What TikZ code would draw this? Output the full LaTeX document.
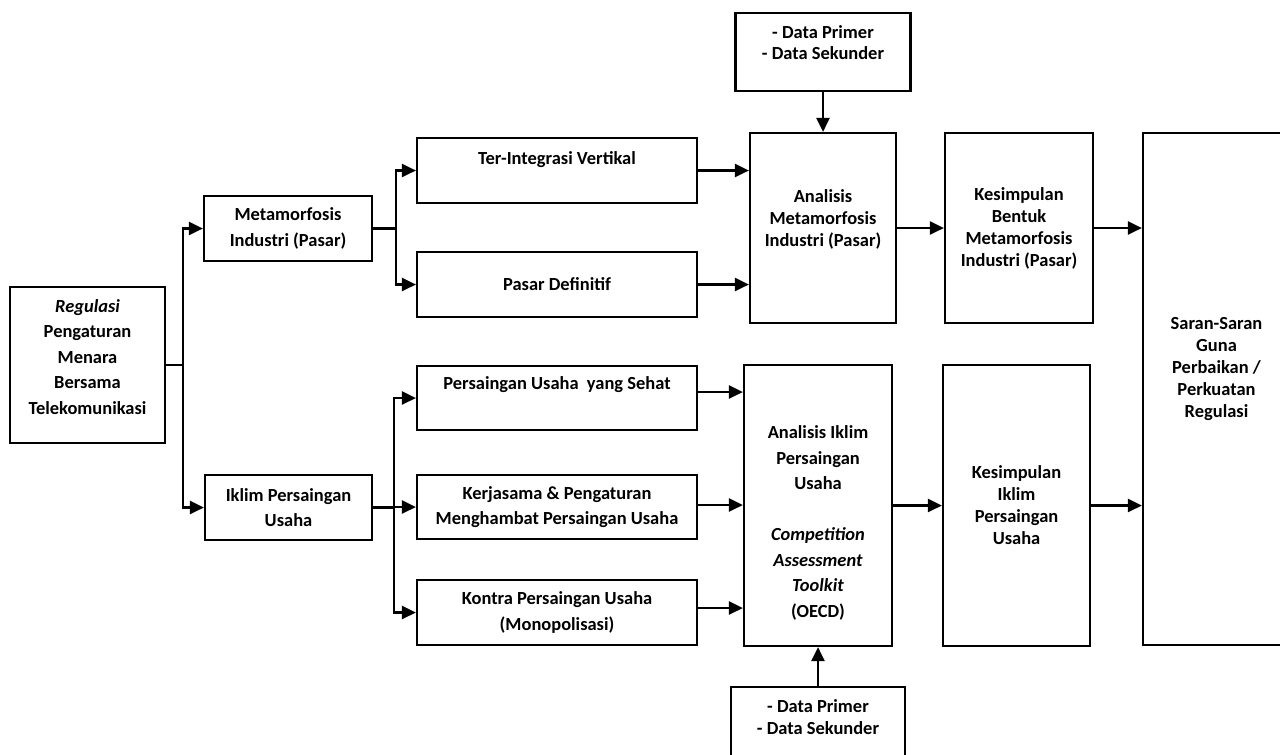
\documentclass[tikz,border=0pt]{standalone}
\usepackage{fontspec}
\setmainfont{Carlito}
\usetikzlibrary{arrows.meta, positioning}

\begin{document}
\begin{tikzpicture}[
    x=0.02cm, y=0.02cm,
    block/.style={rectangle, draw, line width=1.3pt, align=center, inner sep=2pt,
        font=\fontsize{10.5}{14.5}\selectfont\bfseries},
    tall/.style={block, font=\fontsize{10.5}{12.5}\selectfont\bfseries},
    arrow/.style={-{Triangle[length=8pt, width=7.5pt]}, line width=1.3pt}
]
    \path[fill=white, use as bounding box] (0,0) rectangle (1280,-754);
    \clip (0,0) rectangle (1280,-754);

    % left part
    \node[block, minimum width=3.1cm, minimum height=3.12cm] (reg) at (87.5,-365)
        {\textit{Regulasi}\\Pengaturan\\Menara\\Bersama\\Telekomunikasi\\[-5pt]\mbox{}};
    \node[block, minimum width=3.36cm, minimum height=1.3cm] (meta) at (288,-228.5)
        {Metamorfosis\\Industri (Pasar)};
    \node[block, minimum width=3.34cm, minimum height=1.3cm] (iklim) at (288.5,-507.5)
        {Iklim Persaingan\\Usaha};

    % middle column
    \node[block, minimum width=5.6cm, minimum height=1.3cm] (terint) at (557,-170.5)
        {Ter-Integrasi Vertikal\\\mbox{}};
    \node[block, minimum width=5.6cm, minimum height=1.3cm] (pasardef) at (557,-284.5)
        {Pasar Definitif};
    \node[block, minimum width=5.6cm, minimum height=1.28cm] (sehat) at (557,-398)
        {Persaingan Usaha\ \ yang Sehat\\[3pt]\mbox{}};
    \node[block, minimum width=5.6cm, minimum height=1.28cm] (kerja) at (557,-507)
        {Kerjasama \& Pengaturan\\Menghambat Persaingan Usaha};
    \node[block, minimum width=5.6cm, minimum height=1.3cm] (kontra) at (557,-612.5)
        {Kontra Persaingan Usaha\\(Monopolisasi)};

    % analysis
    \node[tall, minimum width=3.5cm, minimum height=1.56cm] (datatop) at (823,-52)
        {- Data Primer\\- Data Sekunder\\[-1.7pt]\mbox{}};
    \node[tall, minimum width=2.92cm, minimum height=3.8cm] (anmeta) at (823,-228)
        {Analisis\\Metamorfosis\\Industri (Pasar)\\[-1.5pt]\mbox{}};
    \node[block, minimum width=2.96cm, minimum height=5.62cm] (aniklim) at (818,-505.5)
        {\mbox{}\\[12.7pt]Analisis Iklim\\Persaingan\\Usaha\\[14.5pt]\textit{Competition}\\
         \textit{Assessment}\\\textit{Toolkit}\\(OECD)};
    \node[tall, minimum width=3.48cm, minimum height=1.4cm] (databot) at (818,-722)
        {- Data Primer\\- Data Sekunder\\[-6.9pt]\mbox{}};

    % conclusions
    \node[tall, minimum width=2.96cm, minimum height=3.8cm] (kesbentuk) at (1019,-228)
        {Kesimpulan\\Bentuk\\Metamorfosis\\Industri (Pasar)};
    \node[tall, minimum width=2.94cm, minimum height=5.62cm] (kesiklim) at (1016.5,-505.5)
        {Kesimpulan\\Iklim\\Persaingan\\Usaha};
    \node[tall, minimum width=2.94cm, minimum height=10.24cm] (saran) at (1216.5,-389)
        {Saran-Saran\\Guna\\Perbaikan /\\Perkuatan\\Regulasi\\[12pt]\mbox{}};

    % connectors
    \draw[arrow] (reg.east) -- ++(17,0) |- (meta.west);
    \draw[arrow] (reg.east) -- ++(17,0) |- (iklim.west);
    \draw[arrow] (meta.east) -- ++(23,0) |- (terint.west);
    \draw[arrow] (meta.east) -- ++(23,0) |- (pasardef.west);
    \draw[arrow] (iklim.east) -- ++(21,0) |- (sehat.west);
    \draw[arrow] (iklim.east) -- ++(21,0) |- (kerja.west);
    \draw[arrow] (iklim.east) -- ++(21,0) |- (kontra.west);

    \draw[arrow] (terint.east) -- (terint.east -| anmeta.west);
    \draw[arrow] (pasardef.east) -- (pasardef.east -| anmeta.west);
    \draw[arrow] ([yshift=6*0.02cm]sehat.east) -- ([yshift=6*0.02cm]sehat.east -| aniklim.west);
    \draw[arrow] ([yshift=2*0.02cm]kerja.east) -- ([yshift=2*0.02cm]kerja.east -| aniklim.west);
    \draw[arrow] ([yshift=4.5*0.02cm]kontra.east) -- ([yshift=4.5*0.02cm]kontra.east -| aniklim.west);
    \draw[arrow] (datatop.south) -- (anmeta.north);
    \draw[arrow] (databot.north) -- (aniklim.south);

    \draw[arrow] (anmeta.east) -- (kesbentuk.west);
    \draw[arrow] (aniklim.east) -- (aniklim.east -| kesiklim.west);
    \draw[arrow] (kesbentuk.east) -- (kesbentuk.east -| saran.west);
    \draw[arrow] (kesiklim.east) -- (kesiklim.east -| saran.west);
\end{tikzpicture}
\end{document}
